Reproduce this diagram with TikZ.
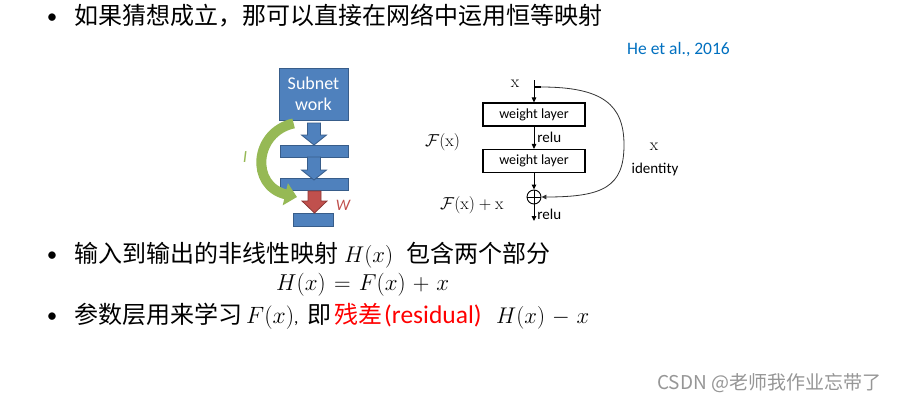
\documentclass[tikz,border=0pt]{standalone}
\usepackage{graphicx}
\usepackage[no-math]{fontspec}
\setmainfont{Carlito}
\newfontfamily\cjk{Noto Sans CJK SC}
\usetikzlibrary{arrows.meta}
\definecolor{blueF}{RGB}{79,129,189}
\definecolor{blueD}{RGB}{56,93,138}
\definecolor{redF}{RGB}{192,80,77}
\definecolor{redD}{RGB}{140,56,54}
\definecolor{greenF}{RGB}{150,185,85}
\definecolor{citeblue}{RGB}{0,112,192}
\definecolor{wmgray}{RGB}{150,150,150}
\newcommand\mathw[2]{\resizebox{#1}{!}{$\medmuskip=5.5mu\thickmuskip=6.5mu #2$}}
\newcommand\blkarrow[6]{%
  \filldraw[fill=#5,draw=#6,line width=0.8pt]
    (#1-6.5,#2) -- (#1+6.5,#2) -- (#1+6.5,#3) -- (#1+12.5,#3) -- (#1,#4)
    -- (#1-12.5,#3) -- (#1-6.5,#3) -- cycle;}
\begin{document}
\begin{tikzpicture}[x=1pt,y=-1pt,
  every node/.style={inner sep=0pt},
  cjkbig/.style={anchor=base west,font=\cjk\fontsize{24}{28}\selectfont},
  mathbig/.style={anchor=base west,font=\fontsize{17.28}{21}\selectfont},
  bullet/.style={anchor=base,font=\fontsize{21}{25}\selectfont},
  blk/.style={draw=blueD,fill=blueF,line width=0.8pt},
  wl/.style={draw,line width=1.1pt,minimum width=102pt,minimum height=23pt,font=\fontsize{14}{16}\selectfont},
  arr/.style={-{Triangle[length=5pt,width=4.5pt]},line width=0.9pt},
  lbl/.style={font=\fontsize{15}{17}\selectfont},
  rmath/.style={font=\fontsize{17.28}{20}\selectfont}]
\path[use as bounding box,fill=white] (0,0) rectangle (901,404);

% bullet 1
\node[bullet] (d1) at (52,24) {•};
\node[cjkbig] (t1) at (74,25) {如果猜想成立，那可以直接在网络中运用恒等映射};
\node[anchor=west,font=\fontsize{17.5}{20}\selectfont,text=citeblue] (cite) at (627,50) {He et al., 2016};

% left diagram
\node[blk,minimum width=69pt,minimum height=52pt,align=center,text=white,
      font=\fontsize{18}{21}\selectfont] (sub) at (313.5,94) {Subnet\\work};
\node[blk,minimum width=68pt,minimum height=12pt] (b1) at (314,151) {};
\node[blk,minimum width=68pt,minimum height=12pt] (b2) at (314,184.5) {};
\node[blk,minimum width=40pt,minimum height=13pt] (b3) at (313,219.5) {};
\blkarrow{314}{123}{135}{145}{blueF}{blueD}
\blkarrow{314}{157}{170}{180}{blueF}{blueD}
\blkarrow{314.5}{191}{201}{213}{redF}{redD}
\draw[greenF,line width=10pt,-{Triangle[length=12pt,width=22pt]}]
  (sub.south west) ++(15,3) .. controls (254,132) and (250,186) .. (297,197);
\node[font=\itshape\fontsize{17}{20}\selectfont,text=greenF] (lI) at (245,157) {I};
\node[font=\itshape\fontsize{16}{19}\selectfont,text=redF] (lW) at (343,205) {W};

% right diagram (residual block)
\node[rmath] (xin) at (515,84) {$\mathrm{x}$};
\coordinate (xtop) at (534,80);
\coordinate (tick) at (541,87);
\node[wl] (w1) at (534,114.5) {weight layer};
\node[wl] (w2) at (534,161) {weight layer};
\node[circle,draw,line width=0.9pt,minimum size=14pt] (plus) at (534,197) {};
\draw[line width=0.9pt] (plus.north) -- (plus.south) (plus.west) -- (plus.east);
\coordinate (out) at (534,221);
\draw[arr] (xtop) -- (w1);
\draw[arr] (w1) -- node[lbl,anchor=west,xshift=3pt] (r1) {relu} (w2);
\draw[arr] (w2) -- (plus);
\draw[arr] (plus) -- node[lbl,anchor=west,xshift=3pt,yshift=-2pt] (r2) {relu} (out);
\draw[line width=1.2pt] (xtop |- tick) -- (tick);
\draw[arr,line width=0.8pt,draw=black!80] (tick) .. controls (603,87) and (624,105) .. (624,145)
  .. controls (624,187) and (603,197) .. (plus.east);
\node[rmath,anchor=base west] (Fx) at (425,146) {$\mathcal{F}(\mathrm{x})$};
\node[rmath,anchor=base west] (Fxx) at (440,209) {$\mathcal{F}(\mathrm{x})+\mathrm{x}$};
\node[rmath] (xid) at (654,147) {$\mathrm{x}$};
\node[lbl] (idt) at (655,169) {identity};

% bullet 2
\node[bullet] (d2) at (52,261) {•};
\node[cjkbig] (t2a) at (74,262) {输入到输出的非线性映射};
\node[mathbig] (t2b) at (344,262) {\mathw{49pt}{H(x)}};
\node[cjkbig] (t2c) at (406,262) {包含两个部分};
\node[mathbig] (eq) at (276,290) {\mathw{173pt}{H(x) = F(x) + x}};

% bullet 3
\node[bullet] (d3) at (52,322) {•};
\node[cjkbig] (t3a) at (74,323) {参数层用来学习};
\node[mathbig] (t3b) at (246,323) {\mathw{48pt}{F(x)},};
\node[cjkbig] (t3c) at (307,323) {即};
\node[cjkbig,text=red] (t3d) at (334,323) {残差};
\node[anchor=base west,font=\fontsize{25.5}{30}\selectfont,text=red] (t3e) at (384,323) {(residual)};
\node[mathbig] (t3f) at (496,323) {\mathw{93pt}{H(x) - x}};

% watermark
\node[anchor=west,font=\cjk\fontsize{19}{22}\selectfont,text=wmgray] (wm) at (657,383) {CSDN @老师我作业忘带了};
\end{tikzpicture}
\end{document}
